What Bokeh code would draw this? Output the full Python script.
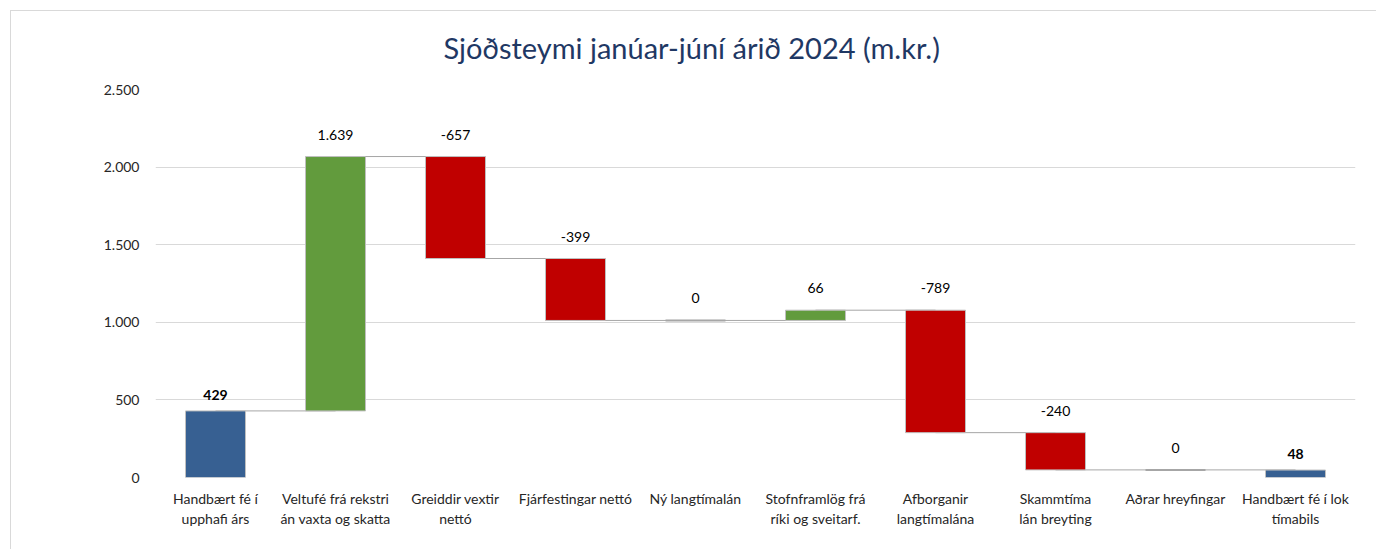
from bokeh.plotting import figure
from bokeh.models import FactorRange, Range1d, FixedTicker, ColumnDataSource, Title
from bokeh.core.properties import value
from bokeh.embed import file_html
from bokeh.resources import INLINE

categories = [
    "Handbært fé í\nupphafi árs",
    "Veltufé frá rekstri\nán vaxta og skatta",
    "Greiddir vextir\nnettó",
    "Fjárfestingar nettó",
    "Ný langtímalán",
    "Stofnframlög frá\nríki og sveitarf.",
    "Afborganir\nlangtímalána",
    "Skammtíma\nlán breyting",
    "Aðrar hreyfingar",
    "Handbært fé í lok\ntímabils",
]
values = [429, 1639, -657, -399, 0, 66, -789, -240, 0, 48]
kinds = ["total", "delta", "delta", "delta", "delta", "delta", "delta", "delta", "delta", "total"]
y_ticks = [0, 500, 1000, 1500, 2000, 2500]
y_tick_labels = ["0", "500", "1.000", "1.500", "2.000", "2.500"]

BLUE = "#376092"
GREEN = "#629b3d"
RED = "#c00000"
FONT = "Lato"

bottoms, tops, colors, labels, fonts_style, offsets, ends = [], [], [], [], [], [], []
level = 0
for v, k in zip(values, kinds):
    if k == "total":
        b, t = 0, v
        level = v
        col = BLUE
    else:
        b = level
        level = level + v
        t = level
        col = GREEN if v > 0 else (RED if v < 0 else "#a6a6a6")
    bottoms.append(min(b, t))
    tops.append(max(b, t))
    colors.append(col)
    ends.append(level)
    labels.append(f"{v:,}".replace(",", "."))
    fonts_style.append("bold" if k == "total" else "normal")
    offsets.append(-16 if k == "total" else -22)

p = figure(
    width=1376, height=549,
    x_range=FactorRange(*categories, range_padding=0),
    y_range=Range1d(0, 2500),
    output_backend="svg", toolbar_location=None,
    min_border_left=155, min_border_right=21,
    min_border_top=89, min_border_bottom=72,
)
p.styles = {"background-color": "#ffffff",
            "box-shadow": "inset 10px 10px 0 0 #ffffff, inset 11px 11px 0 0 #d9d9d9"}
p.border_fill_color = None
p.outline_line_color = None
p.background_fill_color = "white"

title = Title(text="Sjóðsteymi janúar-júní árið 2024 (m.kr.)", align="left", offset=288,
              text_font=FONT, text_font_size="29px", text_font_style="normal",
              text_color="#1f3864", standoff=50)
p.add_layout(title, "above")

# connectors (center to center, behind bars)
seg = ColumnDataSource(dict(x0=categories[:-1], x1=categories[1:], y=ends[:-1]))
p.segment(x0="x0", y0="y", x1="x1", y1="y", source=seg, line_color="#a6a6a6", line_width=1)

nonzero = [i for i in range(len(values)) if tops[i] != bottoms[i]]
zero = [i for i in range(len(values)) if tops[i] == bottoms[i]]
bars = ColumnDataSource(dict(x=[categories[i] for i in nonzero], top=[tops[i] for i in nonzero],
                             bottom=[bottoms[i] for i in nonzero], color=[colors[i] for i in nonzero]))
p.vbar(x="x", top="top", bottom="bottom", width=0.5, source=bars, fill_color="color",
       line_color="#bfbfbf", line_width=1)
zbars = ColumnDataSource(dict(x=[categories[i] for i in zero], y=[tops[i] for i in zero]))
p.vbar(x="x", top="y", bottom="y", width=0.5, source=zbars, fill_color=None,
       line_color="#a6a6a6", line_width=2)

lab = ColumnDataSource(dict(x=categories, y=tops, text=labels, style=fonts_style, off=offsets))
p.text(x="x", y="y", text="text", source=lab, text_align="center", text_baseline="middle",
       y_offset="off", text_font=value(FONT), text_font_size="14px", text_font_style="style",
       text_color="#000000")

p.xgrid.grid_line_color = None
p.ygrid.grid_line_color = "#d9d9d9"
p.ygrid.grid_line_width = 1
p.yaxis.ticker = FixedTicker(ticks=y_ticks)
p.yaxis.major_label_overrides = {t: l for t, l in zip(y_ticks, y_tick_labels)}
for ax in (p.xaxis, p.yaxis):
    ax.axis_line_color = None
    ax.major_tick_line_color = None
    ax.minor_tick_line_color = None
    ax.major_label_text_font = FONT
    ax.major_label_text_font_size = "14px"
    ax.major_label_text_color = "#262626"
p.yaxis.major_label_standoff = 10
p.xaxis.major_label_standoff = 6

open("out.html", "w").write(file_html(p, INLINE))
